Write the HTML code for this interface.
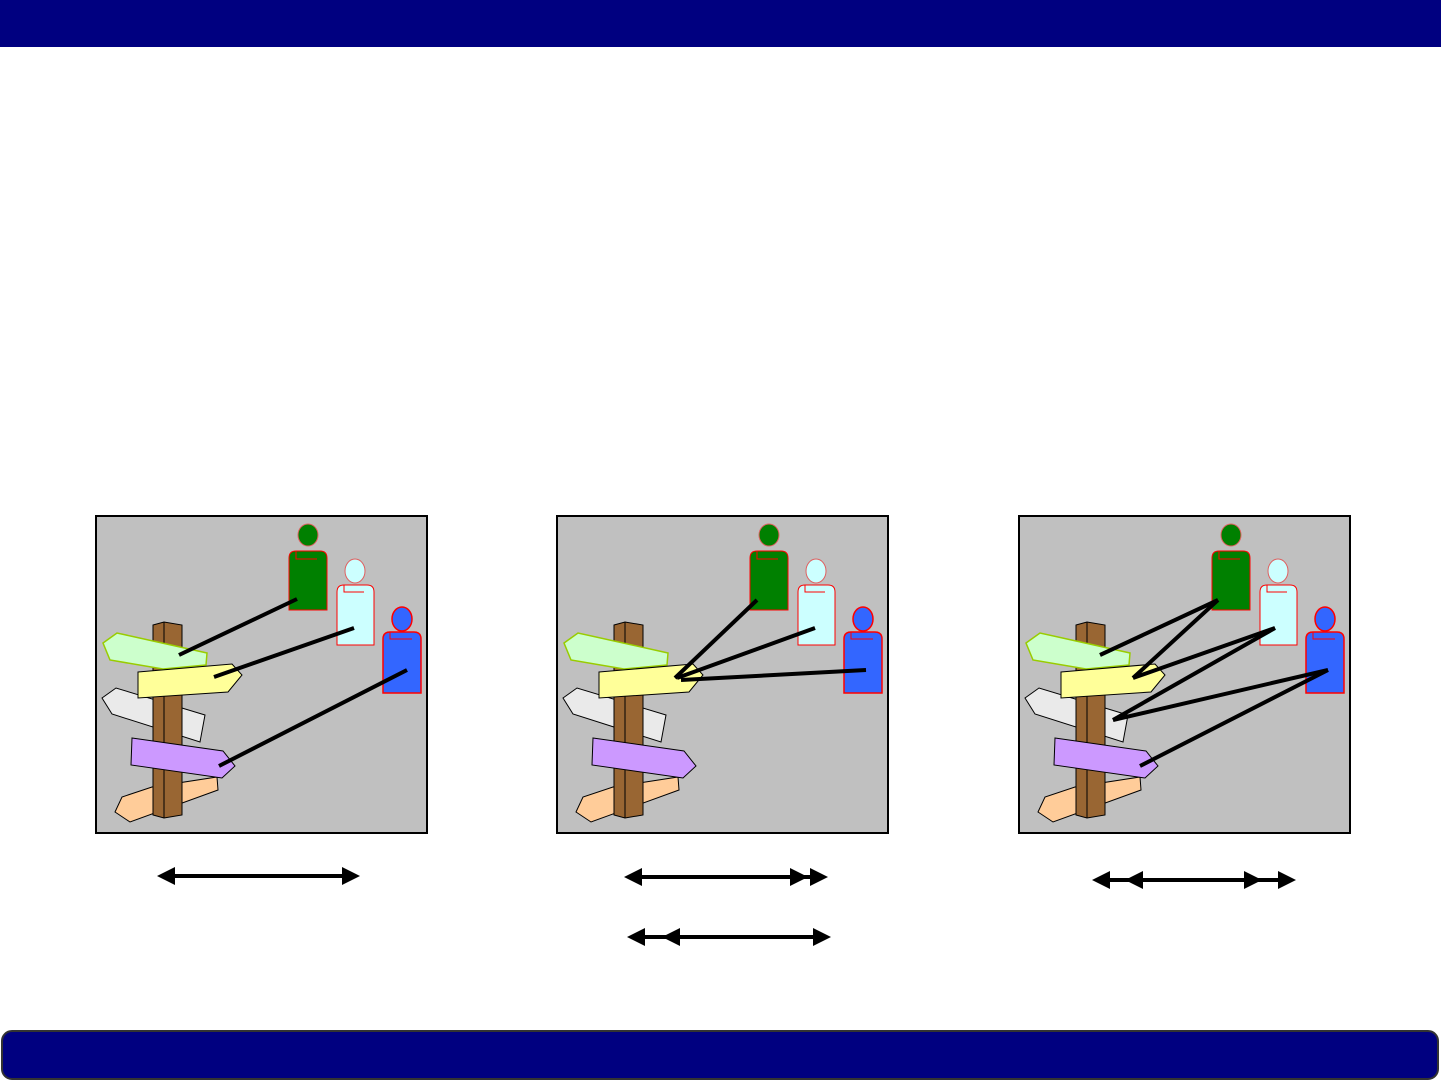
<!DOCTYPE html>
<html><head><style>body{margin:0;background:#fff;width:1441px;height:1081px;overflow:hidden}</style></head>
<body>
<svg width="1441" height="1081" viewBox="0 0 1441 1081" xmlns="http://www.w3.org/2000/svg">
<defs>
<g id="base">
<rect x="0" y="0" width="331" height="317" fill="#c0c0c0" stroke="#000" stroke-width="2"/>
<polygon points="19,296 26,281 56,271 121,261 122,274 34,306" fill="#ffcc99" stroke="#000" stroke-width="1"/>
<polygon points="6,182 20,172 109,199 104,226 16,198" fill="#eaeaea" stroke="#000" stroke-width="1"/>
<polygon points="57,109 68,106 86,109 86,299 68,302 57,299" fill="#996633" stroke="#000" stroke-width="1"/>
<line x1="68" y1="106" x2="68" y2="302" stroke="#000" stroke-width="1"/>
<polygon points="7,127 21,117 111,137 110,149 67,153 14,144" fill="#ccffcc" stroke="#99cc00" stroke-width="1.5"/>
<polygon points="42,156 136,148 146,159 132,176 42,182" fill="#ffff99" stroke="#000" stroke-width="1"/>
<ellipse cx="212" cy="19" rx="10" ry="11" fill="#008000" stroke="#e06060" stroke-width="1"/>
<path d="M193,94 V42 Q193,35 200,35 H224 Q231,35 231,42 V94 Z" fill="#008000" stroke="#ff0000" stroke-width="1"/>
<path d="M200,35 V43 H221" fill="none" stroke="#ff0000" stroke-width="1"/>
<ellipse cx="259" cy="55" rx="10" ry="12" fill="#ccffff" stroke="#e06060" stroke-width="1"/>
<path d="M241,129 V76 Q241,69 248,69 H271 Q278,69 278,76 V129 Z" fill="#ccffff" stroke="#ff0000" stroke-width="1"/>
<path d="M248,69 V76 H268" fill="none" stroke="#ff0000" stroke-width="1"/>
<ellipse cx="306" cy="103" rx="10" ry="12" fill="#3366ff" stroke="#ff0000" stroke-width="1.5"/>
<path d="M287,177 V123 Q287,116 294,116 H318 Q325,116 325,123 V177 Z" fill="#3366ff" stroke="#ff0000" stroke-width="1.5"/>
<path d="M294,116 V123 H316" fill="none" stroke="#ff0000" stroke-width="1"/>
<polygon points="36,222 127,235 139,250 126,262 35,249" fill="#cc99ff" stroke="#000" stroke-width="1"/>
</g>
</defs>
<rect x="0" y="0" width="1441" height="47" fill="#000080"/>
<rect x="2" y="1031" width="1436" height="48" rx="10" fill="#000080" stroke="#333" stroke-width="2"/>

<g transform="translate(96,516)"><use href="#base"/>
<g stroke="#000" stroke-width="4"><line x1="201" y1="83" x2="83" y2="139"/><line x1="258" y1="112" x2="118" y2="161"/><line x1="311" y1="154" x2="123" y2="250"/></g></g>

<g transform="translate(557,516)"><use href="#base"/>
<g stroke="#000" stroke-width="4"><line x1="200" y1="84" x2="118" y2="162"/><line x1="258" y1="112" x2="120" y2="162"/><line x1="309" y1="154" x2="124" y2="164"/></g></g>

<g transform="translate(1019,516)"><use href="#base"/>
<g stroke="#000" stroke-width="4"><line x1="199" y1="84" x2="81" y2="139"/><line x1="199" y1="84" x2="114" y2="162"/><line x1="256" y1="112" x2="114" y2="162"/><line x1="256" y1="112" x2="94" y2="204"/><line x1="309" y1="154" x2="94" y2="204"/><line x1="309" y1="154" x2="121" y2="250"/></g></g>

<g fill="#000" stroke="#000" stroke-width="4">
<line x1="170" y1="876" x2="347" y2="876"/>
<polygon points="157,876 175,867 175,885" stroke="none"/><polygon points="360,876 342,867 342,885" stroke="none"/>
<line x1="637" y1="877" x2="815" y2="877"/>
<polygon points="624,877 642,868 642,886" stroke="none"/><polygon points="808,877 790,868 790,886" stroke="none"/><polygon points="828,877 810,868 810,886" stroke="none"/>
<line x1="640" y1="937" x2="818" y2="937"/>
<polygon points="627,937 645,928 645,946" stroke="none"/><polygon points="662,937 680,928 680,946" stroke="none"/><polygon points="831,937 813,928 813,946" stroke="none"/>
<line x1="1105" y1="880" x2="1283" y2="880"/>
<polygon points="1092,880 1110,871 1110,889" stroke="none"/><polygon points="1125,880 1143,871 1143,889" stroke="none"/><polygon points="1262,880 1244,871 1244,889" stroke="none"/><polygon points="1296,880 1278,871 1278,889" stroke="none"/>
</g>
</svg>
</body></html>
